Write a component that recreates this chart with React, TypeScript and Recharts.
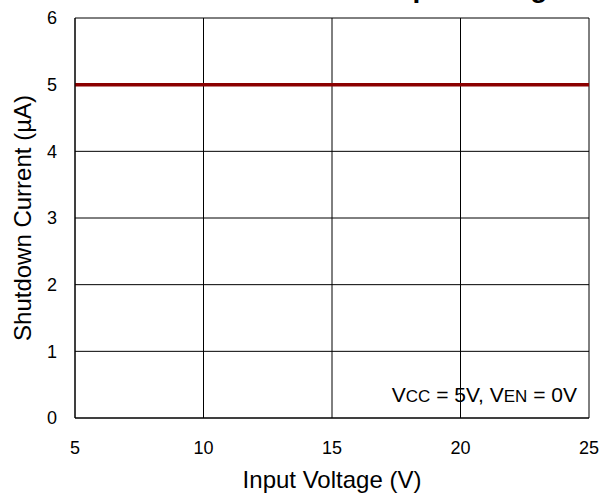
import { LineChart, Line, XAxis, YAxis, CartesianGrid, Label } from "recharts";

const inputVoltage = [5, 10, 15, 20, 25];
const shutdownCurrent = [5, 5, 5, 5, 5];
const xTicks = [5, 10, 15, 20, 25];
const yTicks = [0, 1, 2, 3, 4, 5, 6];

const data = inputVoltage.map((v, i) => ({ v, current: shutdownCurrent[i] }));

const font = "'Liberation Sans', Arial, sans-serif";

export default function App() {
  return (
    <div style={{ position: "absolute", left: 0, top: 0, fontFamily: font }}>
      <LineChart
        width={602}
        height={495}
        data={data}
        margin={{ top: 18, right: 13, bottom: 0, left: 0 }}
      >
        <CartesianGrid stroke="#000" strokeWidth={1} />
        <XAxis
          dataKey="v"
          type="number"
          domain={[5, 25]}
          ticks={xTicks}
          height={77}
          tickLine={false}
          tickSize={0}
          tickMargin={23}
          axisLine={{ stroke: "#000" }}
          tick={{ fill: "#000", fontSize: 18, fontFamily: font }}
        >
          <Label
            value="Input Voltage (V)"
            position="insideBottom"
            offset={7}
            style={{ fill: "#000", fontSize: 24, fontFamily: font }}
          />
        </XAxis>
        <YAxis
          type="number"
          domain={[0, 6]}
          ticks={yTicks}
          width={75}
          tickLine={false}
          tickSize={0}
          tickMargin={18}
          axisLine={{ stroke: "#000" }}
          tick={{ fill: "#000", fontSize: 18, fontFamily: font }}
        >
          <Label
            value="Shutdown Current (µA)"
            angle={-90}
            position="insideLeft"
            offset={22}
            style={{ textAnchor: "middle", fill: "#000", fontSize: 24, fontFamily: font }}
          />
        </YAxis>
        <Line
          dataKey="current"
          stroke="#8B0000"
          strokeWidth={3.5}
          dot={false}
          isAnimationActive={false}
        />
        <text x={326} y={-3.5} textAnchor="middle" fontSize={28} fontWeight="bold" fontFamily={font} fill="#000">
          Shutdown Current vs. Input Voltage
        </text>
        <text x={577} y={402} textAnchor="end" fontSize={21} fontFamily={font} fill="#000">
          V<tspan fontSize={17}>CC</tspan> = 5V, V<tspan fontSize={17}>EN</tspan> = 0V
        </text>
      </LineChart>
    </div>
  );
}
